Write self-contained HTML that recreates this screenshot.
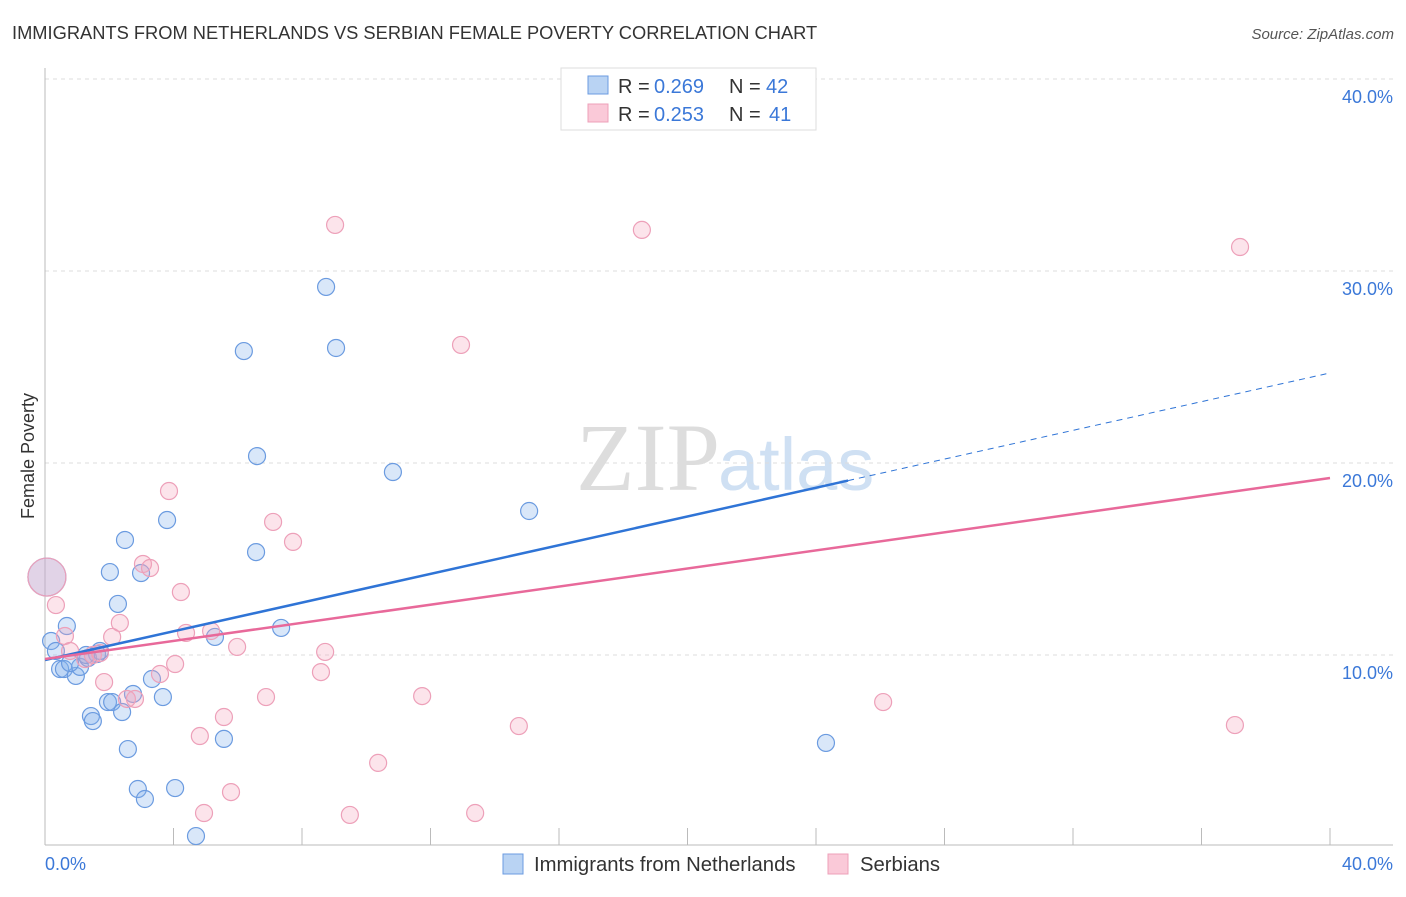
<!DOCTYPE html>
<html><head><meta charset="utf-8"><style>
body{margin:0;background:#fff;font-family:"Liberation Sans",sans-serif;}
</style></head><body>
<svg width="1406" height="892" xmlns="http://www.w3.org/2000/svg" id="svg">
<text x="12" y="39" font-size="18.3" fill="#333">IMMIGRANTS FROM NETHERLANDS VS SERBIAN FEMALE POVERTY CORRELATION CHART</text>
<text x="1394" y="39" font-size="15" fill="#555" font-style="italic" text-anchor="end">Source: ZipAtlas.com</text>
<text x="720" y="490" font-size="96" fill="#ddd" text-anchor="end" font-family="Liberation Serif,serif">ZIP</text>
<text x="718" y="490" font-size="74" fill="#cfe0f3">atlas</text>
<g id="grid"></g>
<line x1="45" y1="68" x2="45" y2="845" stroke="#bbb"/>
<line x1="45" y1="845" x2="1393" y2="845" stroke="#bbb"/>
<g id="xticks"></g>
<g id="pts"></g>
<g id="trends"></g>
<text x="34" y="456" font-size="18" fill="#333" text-anchor="middle" transform="rotate(-90 34 456)">Female Poverty</text>
<text x="45" y="870" font-size="18" fill="#3b78d8">0.0%</text>
<text x="1393" y="870" font-size="18" fill="#3b78d8" text-anchor="end">40.0%</text>
<g>
<rect x="561" y="68" width="255" height="62" fill="#fff" stroke="#ddd"/>
<rect x="588" y="76" width="20" height="18" fill="#b9d3f3" stroke="#6b9be0"/>
<rect x="588" y="104" width="20" height="18" fill="#fac9d8" stroke="#eda0b9"/>
<text x="618" y="93" font-size="20" fill="#333">R =</text>
<text x="654" y="93" font-size="20" fill="#3b78d8">0.269</text>
<text x="729" y="93" font-size="20" fill="#333">N =</text>
<text x="766" y="93" font-size="20" fill="#3b78d8">42</text>
<text x="618" y="121" font-size="20" fill="#333">R =</text>
<text x="654" y="121" font-size="20" fill="#3b78d8">0.253</text>
<text x="729" y="121" font-size="20" fill="#333">N =</text>
<text x="769" y="121" font-size="20" fill="#3b78d8">41</text>
</g>
<g>
<rect x="503" y="854" width="20" height="20" fill="#b9d3f3" stroke="#6b9be0"/>
<text x="534" y="871" font-size="20.3" fill="#333">Immigrants from Netherlands</text>
<rect x="828" y="854" width="20" height="20" fill="#fac9d8" stroke="#eda0b9"/>
<text x="860" y="871" font-size="20.3" fill="#333">Serbians</text>
</g>
</svg>
<script>
const yTicks=[10,20,30,40];
const yTickLabels=["10.0%","20.0%","30.0%","40.0%"];
const blueX=[0.06,0.19,0.34,0.68,0.47,0.59,0.96,1.09,0.78,1.34,1.62,1.71,1.28,2.02,2.27,2.49,2.99,3.80,3.33,3.67,2.74,1.96,2.09,2.40,1.43,1.49,2.58,2.89,3.11,4.05,4.70,6.19,6.60,6.57,5.29,5.57,7.35,8.75,9.06,10.83,15.07,24.31];
const blueY=[14.06,10.73,10.21,11.51,9.27,9.27,8.91,9.38,9.58,9.84,10.05,10.21,10.0,14.32,12.66,15.99,14.27,17.03,8.75,7.81,7.97,7.55,7.55,7.03,6.82,6.56,5.10,3.02,2.50,3.07,0.57,25.83,20.36,15.36,10.94,5.63,11.41,29.17,25.99,19.53,17.50,5.42];
const pinkX=[0.06,0.34,0.62,0.78,1.25,1.49,1.71,2.09,2.33,1.84,2.55,2.80,3.05,3.27,3.86,4.23,4.39,4.05,3.58,5.17,5.98,5.57,4.82,4.95,5.79,7.10,7.72,6.88,8.72,8.59,9.03,9.49,10.37,11.74,12.95,13.39,14.75,18.58,26.09,37.20,37.04];
const pinkY=[14.06,12.60,10.99,10.21,9.79,10.0,10.10,10.94,11.67,8.59,7.71,7.71,14.74,14.53,18.54,13.28,11.15,9.53,9.01,11.25,10.42,6.77,5.78,1.77,2.86,16.93,15.89,7.81,10.16,9.11,32.40,1.67,4.38,7.86,26.15,1.77,6.30,32.14,7.55,31.25,6.35];
const blueTrend=[9.74,24.69];
const pinkTrend=[9.79,19.22];
const blueSolidEnd=25.0;
const NS="http://www.w3.org/2000/svg";
const sx=v=>45+v*32.125, sy=v=>847-v*19.2;
function mk(t,a,p){const e=document.createElementNS(NS,t);for(const k in a)e.setAttribute(k,a[k]);document.getElementById(p).appendChild(e);return e;}
yTicks.forEach((t,i)=>{
 const l=mk('line',{x1:45,x2:1393,y1:sy(t),y2:sy(t),stroke:'#ddd','stroke-dasharray':'4,4'},'grid');
 
 
 const tx=mk('text',{x:1393,y:sy(t)+24,'font-size':18,fill:'#3b78d8','text-anchor':'end'},'grid');
 tx.textContent=yTickLabels[i];
 
 
});
for(let i=1;i<=10;i++){
 const l=mk('line',{x1:sx(i*4),x2:sx(i*4),y1:828,y2:845,stroke:'#bbb'},'xticks');
 
 
}
function pts(X,Y,fill,stroke,name){
 X.forEach((x,i)=>{
  const big=i===0;
  const c=mk('circle',{cx:sx(x),cy:sy(Y[i]),r:big?19:8.5,fill:fill,stroke:stroke,'stroke-width':1.2},'pts');
  
  
 });
}
pts(blueX,blueY,'rgba(130,175,235,0.3)','#6b9be0','netherlands-point');
pts(pinkX,pinkY,'rgba(245,165,190,0.3)','#eda0b9','serbian-point');
const bAt=x=>blueTrend[0]+(blueTrend[1]-blueTrend[0])*x/40;
let l=mk('line',{x1:sx(0),y1:sy(bAt(0)),x2:sx(blueSolidEnd),y2:sy(bAt(blueSolidEnd)),stroke:'#2f74d6','stroke-width':2.5},'trends');


l=mk('line',{x1:sx(blueSolidEnd),y1:sy(bAt(blueSolidEnd)),x2:sx(40),y2:sy(bAt(40)),stroke:'#2f74d6','stroke-width':1,'stroke-dasharray':'6,5'},'trends');


l=mk('line',{x1:sx(0),y1:sy(pinkTrend[0]),x2:sx(40),y2:sy(pinkTrend[1]),stroke:'#e8699a','stroke-width':2.5},'trends');


</script>
</body></html>
